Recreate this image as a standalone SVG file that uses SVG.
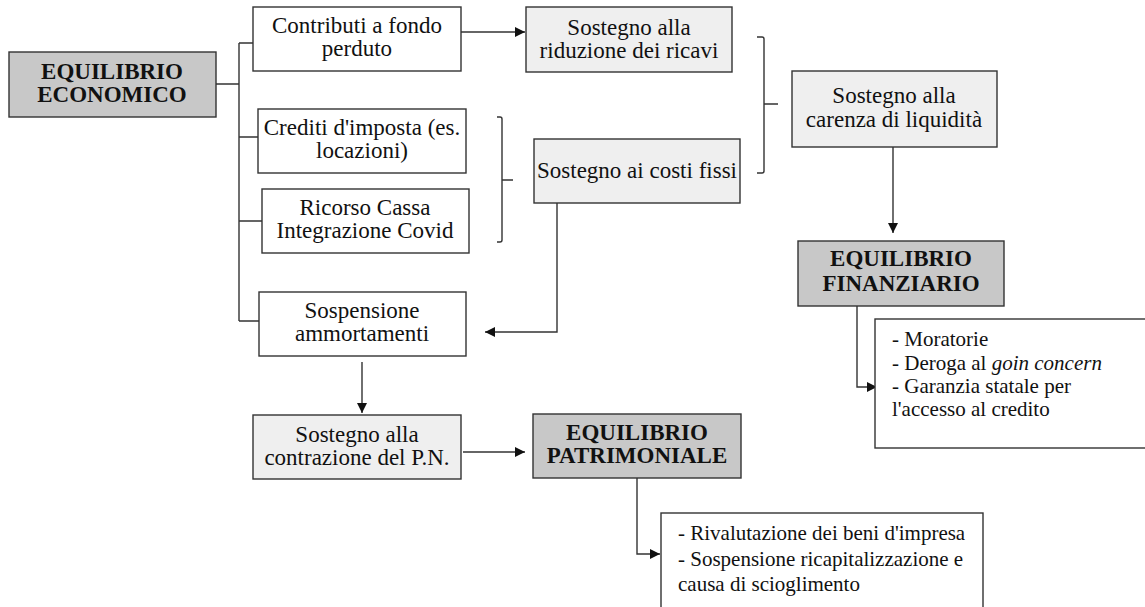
<svg xmlns="http://www.w3.org/2000/svg" width="1145" height="607" viewBox="0 0 1145 607">
<style>
.box{stroke:#333;stroke-width:1.4;fill:#fff}
.lt{fill:#efefef}
.dk{fill:#c8c8c8}
.t{font-family:'Liberation Serif',serif;font-size:23px;fill:#111;text-anchor:middle}
.b{font-family:'Liberation Serif',serif;font-size:23px;font-weight:bold;fill:#111;text-anchor:middle}
.l{font-family:'Liberation Serif',serif;font-size:21px;fill:#111}
.c{fill:none;stroke:#333;stroke-width:1.4}
</style>
<defs>
<marker id="ah" viewBox="0 0 10 10" refX="10" refY="5" markerWidth="10" markerHeight="10" markerUnits="userSpaceOnUse" orient="auto">
<path d="M0,0 L10,5 L0,10 Z" fill="#111"/>
</marker>
</defs>
<g id="connectors">
<path class="c" d="M216,84 H239 M239,43 V321 M239,43 H253 M239,137 H258 M239,221 H262 M239,321 H259"/>
<path class="c" d="M461,32 H525" marker-end="url(#ah)"/>
<path class="c" d="M497,117 H500 Q502,117 502,119 V240 Q502,242 500,242 H497 M502,180 H513"/>
<path class="c" d="M757,37 H762 Q764,37 764,39 V171 Q764,173 762,173 H757 M764,104 H778"/>
<path class="c" d="M557,203 V332 H485" marker-end="url(#ah)"/>
<path class="c" d="M893,147 V233" marker-end="url(#ah)"/>
<path class="c" d="M362,362 V413" marker-end="url(#ah)"/>
<path class="c" d="M463,452 H525" marker-end="url(#ah)"/>
<path class="c" d="M857,306 V387 H877" marker-end="url(#ah)"/>
<path class="c" d="M637,478 V554 H660" marker-end="url(#ah)"/>
</g>
<g id="economico">
<rect class="box dk" x="9" y="52" width="207" height="65"/>
<text class="b" x="112" y="79" font-family="Liberation Serif">EQUILIBRIO</text>
<text class="b" x="112" y="102" font-family="Liberation Serif">ECONOMICO</text>
</g>
<g id="contributi">
<rect class="box" x="253" y="7" width="208" height="64"/>
<text class="t" x="357" y="33" font-family="Liberation Serif">Contributi a fondo</text>
<text class="t" x="357" y="56" font-family="Liberation Serif">perduto</text>
</g>
<g id="ricavi">
<rect class="box lt" x="526" y="7" width="206" height="65"/>
<text class="t" x="629" y="35" font-family="Liberation Serif">Sostegno alla</text>
<text class="t" x="629" y="58" font-family="Liberation Serif">riduzione dei ricavi</text>
</g>
<g id="crediti">
<rect class="box" x="258" y="109" width="208" height="64"/>
<text class="t" x="362" y="135" font-family="Liberation Serif">Crediti d'imposta (es.</text>
<text class="t" x="362" y="158" font-family="Liberation Serif">locazioni)</text>
</g>
<g id="ricorso">
<rect class="box" x="262" y="189" width="207" height="64"/>
<text class="t" x="365" y="215" font-family="Liberation Serif">Ricorso Cassa</text>
<text class="t" x="365" y="238" font-family="Liberation Serif">Integrazione Covid</text>
</g>
<g id="sospensione">
<rect class="box" x="259" y="292" width="207" height="64"/>
<text class="t" x="362" y="318" font-family="Liberation Serif">Sospensione</text>
<text class="t" x="362" y="341" font-family="Liberation Serif">ammortamenti</text>
</g>
<g id="costifissi">
<rect class="box lt" x="534" y="139" width="206" height="64"/>
<text class="t" x="637" y="178" font-family="Liberation Serif">Sostegno ai costi fissi</text>
</g>
<g id="carenza">
<rect class="box lt" x="792" y="71" width="205" height="76"/>
<text class="t" x="894" y="103" font-family="Liberation Serif">Sostegno alla</text>
<text class="t" x="894" y="127" font-family="Liberation Serif">carenza di liquidità</text>
</g>
<g id="finanziario">
<rect class="box dk" x="798" y="241" width="206" height="65"/>
<text class="b" x="901" y="266" font-family="Liberation Serif">EQUILIBRIO</text>
<text class="b" x="901" y="291" font-family="Liberation Serif">FINANZIARIO</text>
</g>
<g id="finlist">
<rect class="box" x="875" y="319" width="280" height="129"/>
<text class="l" x="892" y="346" font-family="Liberation Serif">- Moratorie</text>
<text class="l" x="892" y="370" font-family="Liberation Serif">- Deroga al <tspan font-style="italic">goin concern</tspan></text>
<text class="l" x="892" y="393" font-family="Liberation Serif">- Garanzia statale per</text>
<text class="l" x="892" y="416" font-family="Liberation Serif">l'accesso al credito</text>
</g>
<g id="contrazione">
<rect class="box lt" x="253" y="415" width="208" height="64"/>
<text class="t" x="357" y="442" font-family="Liberation Serif">Sostegno alla</text>
<text class="t" x="357" y="465" font-family="Liberation Serif">contrazione del P.N.</text>
</g>
<g id="patrimoniale">
<rect class="box dk" x="533" y="414" width="208" height="64"/>
<text class="b" x="637" y="440" font-family="Liberation Serif">EQUILIBRIO</text>
<text class="b" x="637" y="463" font-family="Liberation Serif">PATRIMONIALE</text>
</g>
<g id="patlist">
<rect class="box" x="661" y="513" width="322" height="110"/>
<text class="l" x="678" y="540" font-family="Liberation Serif">- Rivalutazione dei beni d'impresa</text>
<text class="l" x="678" y="566" font-family="Liberation Serif">- Sospensione ricapitalizzazione e</text>
<text class="l" x="678" y="591" font-family="Liberation Serif">causa di scioglimento</text>
</g>
</svg>
